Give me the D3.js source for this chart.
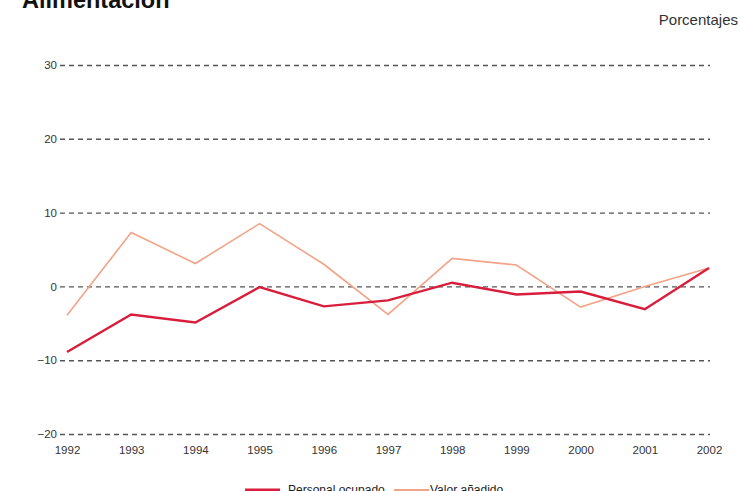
<!DOCTYPE html>
<html><head><meta charset="utf-8">
<script src="https://cdn.jsdelivr.net/npm/d3@7"></script>
<style>body{margin:0;background:#fff;} svg{display:block;font-family:"Liberation Sans",Arial,sans-serif;}</style>
</head><body>
<svg id="c" width="740" height="491"></svg>
<script>
const years = [1992,1993,1994,1995,1996,1997,1998,1999,2000,2001,2002];
const personalOcupado = [-8.9,-3.8,-4.9,-0.1,-2.7,-1.9,0.5,-1.1,-0.7,-3.1,2.5];
const valorAnadido = [-3.9,7.3,3.1,8.5,3.0,-3.8,3.8,2.9,-2.8,0.0,2.5];
const yTicks = [-20,-10,0,10,20,30];
const seriesNames = ["Personal ocupado","Valor añadido"];
const colors = ["#d81e3c","#f2a388"];

const svg = d3.select("#c");
const x = d3.scalePoint().domain(years).range([67,709]);
const y = d3.scaleLinear().domain([-20,30]).range([434,65]);

svg.append("text").attr("x",22).attr("y",8).attr("font-size",23.5).attr("font-weight","bold").attr("fill","#111").text("Alimentación");
svg.append("text").attr("x",738).attr("y",25).attr("text-anchor","end").attr("font-size",15).attr("fill","#333").text("Porcentajes");

const yAxis = d3.axisLeft(y).tickValues(yTicks).tickSize(-650).tickPadding(3)
  .tickFormat(d => d < 0 ? "\u2212" + Math.abs(d) : d);
const gy = svg.append("g").attr("transform","translate(60,0)").call(yAxis);
gy.select(".domain").remove();
gy.selectAll(".tick line").attr("stroke","#555").attr("stroke-width",1.4).attr("stroke-dasharray","5,4");
gy.selectAll(".tick text").attr("font-size",11.5).attr("fill","#333").attr("font-family","Liberation Sans, Arial, sans-serif");

const xAxis = d3.axisBottom(x).tickSize(0).tickPadding(0);
const gx = svg.append("g").attr("transform","translate(0,446)").call(xAxis);
gx.select(".domain").remove();
gx.selectAll(".tick text").attr("font-size",11.5).attr("fill","#333").attr("font-family","Liberation Sans, Arial, sans-serif");

const line = d3.line().x((d,i)=>x(years[i])).y(d=>y(d));
svg.append("path").datum(valorAnadido).attr("d",line).attr("fill","none").attr("stroke",colors[1]).attr("stroke-width",1.6);
svg.append("path").datum(personalOcupado).attr("d",line).attr("fill","none").attr("stroke",colors[0]).attr("stroke-width",2.4);

const leg = [{x:245,tx:288},{x:394,tx:430}];
seriesNames.forEach((n,i)=>{
  svg.append("line").attr("x1",leg[i].x).attr("x2",leg[i].x+35).attr("y1",490).attr("y2",490).attr("stroke",colors[i]).attr("stroke-width",i===0?3:2);
  svg.append("text").attr("x",leg[i].tx).attr("y",494).attr("font-size",12).attr("fill","#222").text(n);
});
</script>
</body></html>
